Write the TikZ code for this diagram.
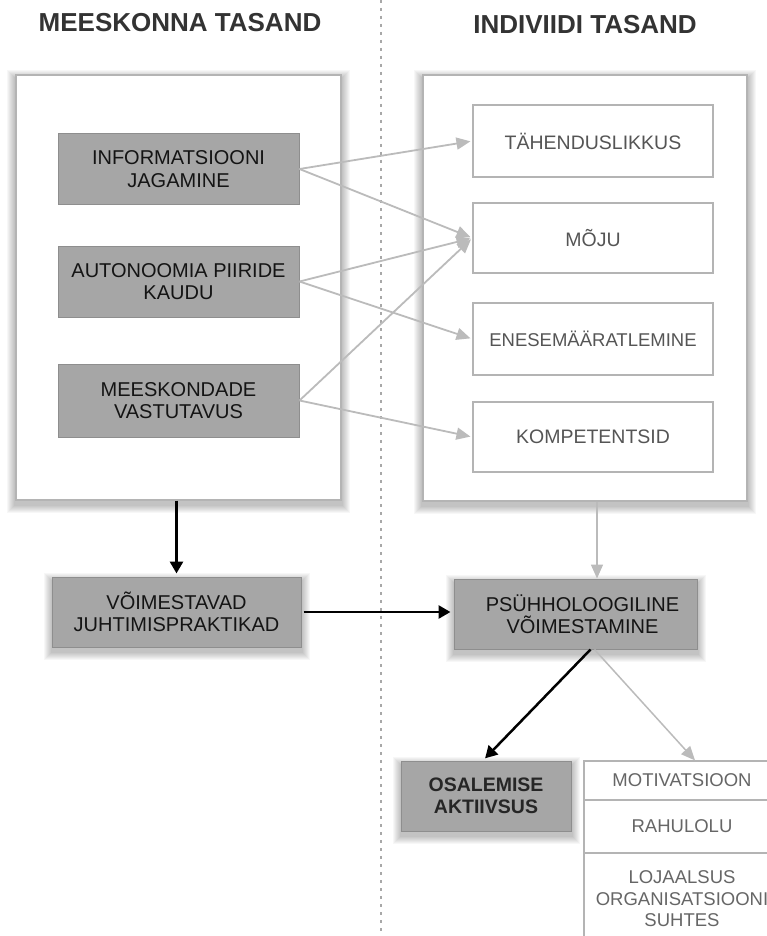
\documentclass[tikz,border=0pt]{standalone}
\usepackage{fontspec}
\setmainfont{Liberation Sans}
\usetikzlibrary{arrows.meta,backgrounds,calc}
\definecolor{boxgray}{HTML}{A6A6A6}
\definecolor{graybord}{HTML}{8E8E8E}
\definecolor{edgegray}{HTML}{B4B4B4}
\definecolor{arrgray}{HTML}{BBBBBB}
\definecolor{dashgray}{HTML}{A8A8A8}
\definecolor{txtgray}{HTML}{555555}
\definecolor{hdr}{HTML}{333333}
\begin{document}
\begin{tikzpicture}[x=1pt,y=-1pt,
  container/.style={draw=edgegray, line width=1.2pt, fill=white, inner sep=0pt},
  graybox/.style={draw=graybord, line width=1pt, fill=boxgray, align=center, inner sep=0pt,
    font=\fontsize{20}{22.5}\selectfont, text=black!92},
  whitebox/.style={draw=edgegray, line width=1.2pt, fill=white, align=center, inner sep=0pt,
    font=\fontsize{19.5}{23}\selectfont, text=txtgray},
  stackbox/.style={draw=edgegray, line width=1.2pt, fill=white, align=center, inner sep=0pt,
    font=\fontsize{18.5}{21.5}\selectfont, text=txtgray!90},
  hdrtext/.style={font=\fontsize{26}{30}\selectfont\bfseries, text=hdr},
  garrow/.style={draw=arrgray, line width=1.8pt, -{Triangle[length=14pt,width=12pt]}, shorten >=2pt},
  karrow/.style={draw=black, line width=2.8pt, -{Triangle[length=12pt,width=13pt]}, shorten >=3pt}
]
\useasboundingbox (0,0) rectangle (767,936);

% dashed separator
\draw[draw=dashgray, line width=2pt, dash pattern=on 3pt off 5pt] (381,0) -- (381,936);

% headers
\node[hdrtext] (h1) at (180,23) {MEESKONNA TASAND};
\node[hdrtext] (h2) at (585,25) {INDIVIIDI TASAND};

% containers
\node[container, minimum width=325pt, minimum height=425pt] (leftC) at (178.5,287.5) {};
\node[container, minimum width=324pt, minimum height=426pt] (rightC) at (585,288) {};

% left boxes
\node[graybox, minimum width=241pt, minimum height=70pt] (info) at (178.5,169) {INFORMATSIOONI\\JAGAMINE};
\node[graybox, minimum width=241pt, minimum height=71pt] (auto) at (178.5,281.5) {AUTONOOMIA PIIRIDE\\KAUDU};
\node[graybox, minimum width=241pt, minimum height=73pt] (meesk) at (178.5,400.5) {MEESKONDADE\\VASTUTAVUS};

% right boxes
\node[whitebox, minimum width=240pt, minimum height=72pt] (tah) at (593,141) {TÄHENDUSLIKKUS};
\node[whitebox, minimum width=240pt, minimum height=70pt] (moju) at (593,238) {MÕJU};
\node[whitebox, minimum width=240pt, minimum height=72pt, font=\fontsize{18.5}{22}\selectfont] (enese) at (593,339) {ENESEMÄÄRATLEMINE};
\node[whitebox, minimum width=240pt, minimum height=70pt] (komp) at (593,437) {KOMPETENTSID};

% lower boxes
\node[graybox, minimum width=249pt, minimum height=70pt] (voim) at (176.5,612) {VÕIMESTAVAD\\JUHTIMISPRAKTIKAD};
\node[graybox, minimum width=243pt, minimum height=70pt] (psyh) at (575.5,614) {\hspace*{14pt}PSÜHHOLOOGILINE\\\hspace*{14pt}VÕIMESTAMINE};
\node[graybox, minimum width=170pt, minimum height=70pt, font=\fontsize{19.5}{22}\selectfont\bfseries, text=black!85] (osal) at (486,796) {OSALEMISE\\AKTIIVSUS};

% right stack
\node[stackbox, minimum width=196pt, minimum height=39pt] (mot) at (682,780.5) {MOTIVATSIOON};
\node[stackbox, minimum width=196pt, minimum height=53pt] (rah) at (682,826.5) {RAHULOLU};
\node[stackbox, minimum width=196pt, minimum height=92pt] (loj) at (682,899) {LOJAALSUS\\ORGANISATSIOONI\\SUHTES};

% gray arrows (team -> individual)
\draw[garrow] (info.east) -- (tah.west);
\draw[garrow] (info.east) -- (moju.west);
\draw[garrow] (auto.east) -- (moju.west);
\draw[garrow] (auto.east) -- (enese.west);
\draw[garrow] (meesk.east) -- (moju.west);
\draw[garrow] (meesk.east) -- (komp.west);

% black arrows
\draw[karrow] (voim.north |- leftC.south) -- (voim.north);
\draw[karrow, shorten <=2pt] (voim.east) -- (voim.east -| psyh.west);
\draw[karrow, line width=2.5pt] ([xshift=15pt]psyh.south) -- ([xshift=-3pt]osal.north);

% gray thin arrows
\draw[garrow, line width=1.5pt, shorten >=0pt] ([xshift=21.5pt]psyh.north |- rightC.south) -- ([xshift=21.5pt]psyh.north);
\draw[garrow, line width=1.5pt, shorten >=0pt] ([xshift=19pt]psyh.south) -- ([xshift=13pt]mot.north);

% background and soft shadows
\begin{scope}[on background layer]
  \fill[white] (0,0) rectangle (767,936);
  \foreach \n in {leftC,rightC,voim,psyh,osal}{
    \foreach \i in {1,...,8}{
      \fill[black, opacity=0.03]
        ([xshift={-\i*1pt}, yshift={-\i*1pt-4pt}]\n.south west) rectangle
        ([xshift={\i*1pt}, yshift={\i*1pt-4pt}]\n.north east);
    }
  }
\end{scope}
\end{tikzpicture}
\end{document}
